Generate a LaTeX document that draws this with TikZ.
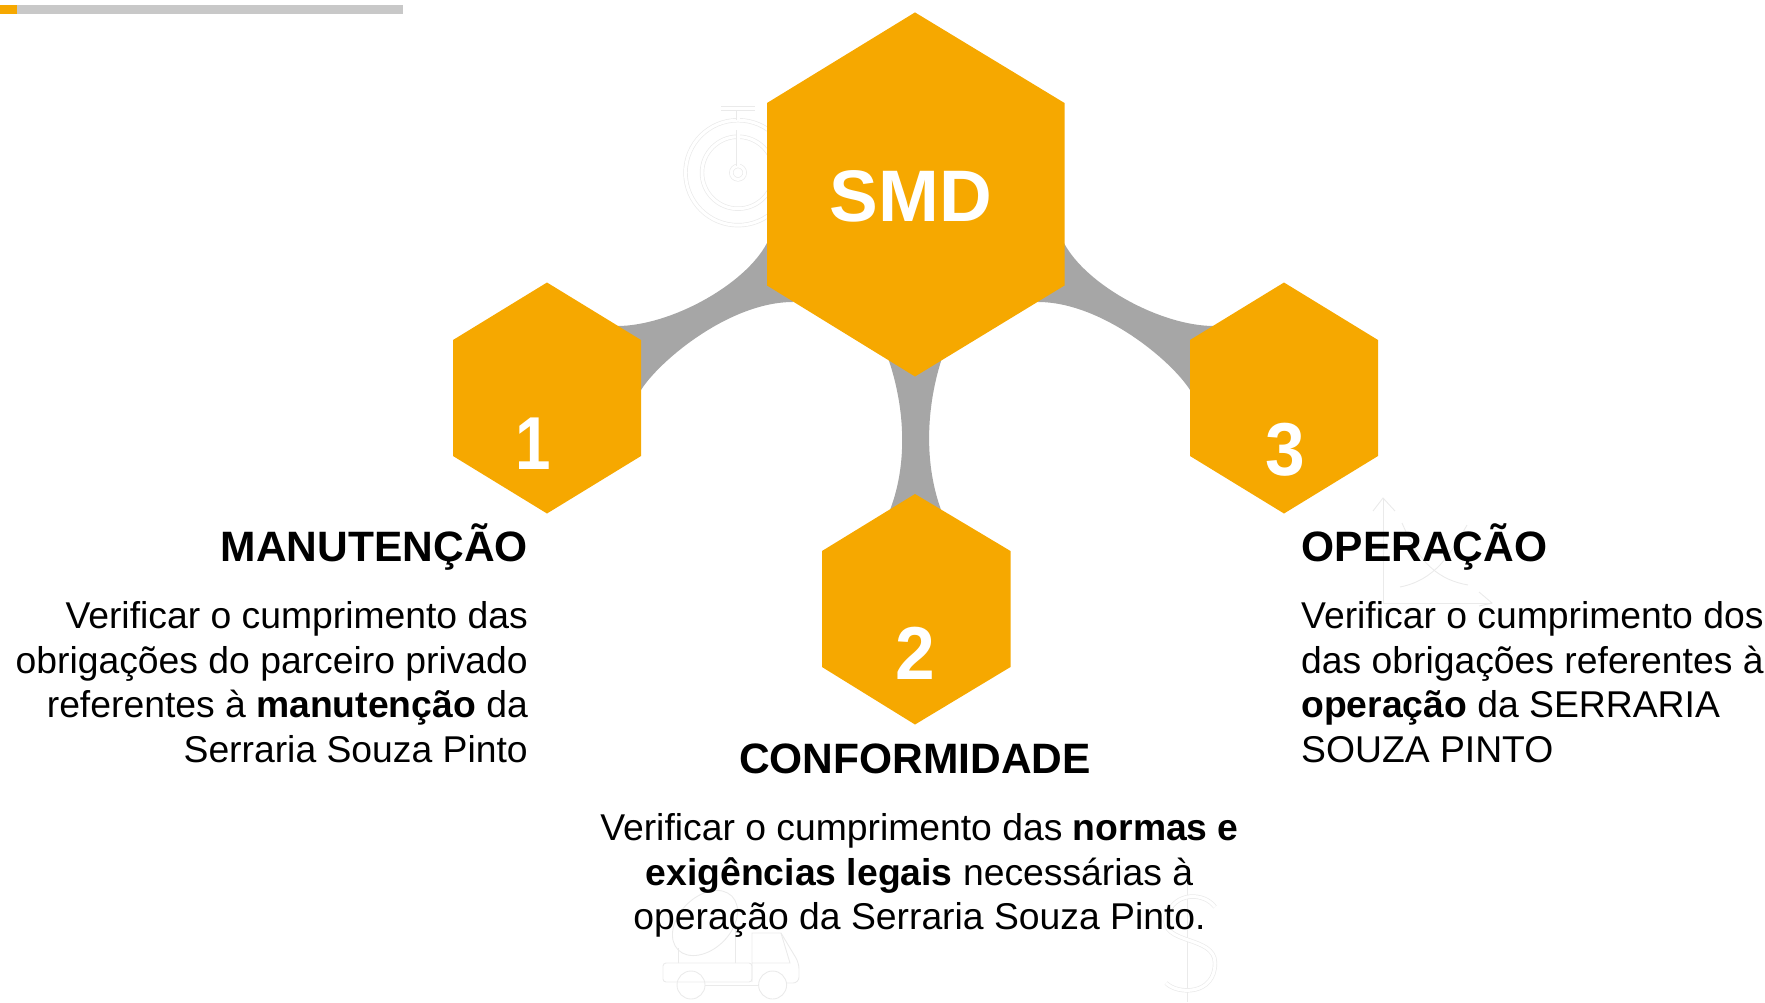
\documentclass[tikz,border=0pt]{standalone}
\usepackage{fontspec}
\setmainfont{Liberation Sans}
\definecolor{hexc}{HTML}{F6A800}
\definecolor{linkc}{HTML}{A6A6A6}
\definecolor{barc}{HTML}{C8C8C8}
\definecolor{iconc}{HTML}{EAEAEA}
\tikzset{
  hexfill/.style={fill=hexc},
  linkfill/.style={fill=linkc},
  icon/.style={draw=iconc,line width=.7pt,double=white,double distance=3pt,fill=none},
  iconthin/.style={draw=iconc,line width=.9pt},
  title/.style={font=\fontsize{42.5}{48}\selectfont\bfseries,inner sep=0pt},
  body/.style={font=\fontsize{37.3}{44.8}\selectfont,inner sep=0pt},
  bignum/.style={font=\fontsize{75}{80}\selectfont\bfseries,text=white,inner sep=0pt},
}
\begin{document}
\begin{tikzpicture}[x=1pt,y=-1pt]
\useasboundingbox (0,0) rectangle (1765,1002);
% top progress bar
\fill[barc] (0,5) rectangle (403,13.7);
\fill[hexc] (0,5) rectangle (17,13.7);
% faint stopwatch
\draw[icon] (738,172.7) circle (52.5);
\draw[icon] (738,172.7) circle (36);
\draw[icon] (738,172.7) circle (6.7);
\draw[icon] (738,166) -- (738,130);
\draw[icon] (738,120) -- (738,110);
\draw[icon] (721,108.3) -- (755,108.3);
% faint truck
\draw[iconthin,rounded corners=3pt] (663,963) rectangle (752,982);
\draw[iconthin] (752,982) -- (752,933) -- (781,933) -- (790,963) -- (752,963);
\draw[iconthin,rounded corners=6pt] (781,933) -- (799,963) -- (799,983) -- (787,983);
\draw[iconthin] (691,985) circle (14);
\draw[iconthin] (772.6,985) circle (14);
\draw[iconthin] (705,985) -- (758.6,985);
\draw[iconthin] (705,923) ellipse [x radius=38,y radius=26,rotate=45];
\draw[iconthin] (678,963) -- (678,948);
\draw[iconthin] (735,963) -- (735,925);
% faint dollar sign
\draw[icon] (1189,883) -- (1189,1002);
\draw[icon] (1215,907) .. controls (1205,893) and (1175,890) .. (1166,917)
  .. controls (1160,945) and (1215,935) .. (1215,963)
  .. controls (1215,995) and (1178,995) .. (1166,983);
% faint chart
\draw[iconthin] (1383,603) -- (1383,498);
\draw[iconthin] (1373,511) -- (1383,498) -- (1395,511);
\draw[iconthin] (1383,603) -- (1492,603);
\draw[iconthin] (1479,592) -- (1492,603) -- (1479,606);
\draw[iconthin] (1400,587) .. controls (1435,580) and (1450,555) .. (1467,525);
\draw[iconthin] (1402,523) .. controls (1420,565) and (1440,580) .. (1468,585);
% gray connectors
\fill[linkfill] (767,243) .. controls (745,285) and (670,326) .. (617,326)
  -- (641,345) -- (641,390) .. controls (660,360) and (730,302) .. (793,302) -- cycle;
\fill[linkfill] (1064,243) .. controls (1086,285) and (1161,326) .. (1214,326)
  -- (1190,345) -- (1190,390) .. controls (1171,360) and (1101,302) .. (1038,302) -- cycle;
\fill[linkfill] (887,355) .. controls (905,405) and (909,465) .. (888,515)
  -- (943,515) .. controls (923,465) and (926,405) .. (943,355) -- cycle;
% hexagons
\fill[hexfill] (915,12.4) -- (1064.5,103) -- (1064.5,285.5) -- (915,376.5) -- (767,285.5) -- (767,103) -- cycle;
\fill[hexfill] (547,282.5) -- (641,340) -- (641,456) -- (547,513.5) -- (453,456) -- (453,340) -- cycle;
\fill[hexfill] (915,494) -- (1010.5,551) -- (1010.5,667) -- (915,724.5) -- (822,667) -- (822,551) -- cycle;
\fill[hexfill] (1284,282.5) -- (1378,340) -- (1378,456) -- (1284,513.5) -- (1190,456) -- (1190,340) -- cycle;
% hexagon labels
\node[bignum,font=\fontsize{73}{80}\selectfont\bfseries] (smd) at (911,196) {SMD};
\node[bignum] (n1) at (533,444) {\scalebox{.85}[1]{1}};
\node[bignum] (n2) at (915,653) {\scalebox{.95}[1]{2}};
\node[bignum] (n3) at (1285,450) {\scalebox{.95}[1]{3}};
% texts
\node[title,anchor=base east] (t1) at (528,561) {MANUTENÇÃO};
\node[body,anchor=north east,align=right] (b1) at (528,601) {Verificar o cumprimento das\\obrigações do parceiro privado\\referentes à \textbf{manutenção} da\\Serraria Souza Pinto};
\node[title,anchor=base] (t2) at (915,773) {CONFORMIDADE};
\node[body,anchor=north,align=center] (b2) at (919.5,813) {Verificar o cumprimento das \textbf{normas e}\\\textbf{exigências legais} necessárias à\\operação da Serraria Souza Pinto.};
\node[title,anchor=base west] (t3) at (1301.5,561) {OPERAÇÃO};
\node[body,anchor=north west,align=left] (b3) at (1301,601) {Verificar o cumprimento dos\\das obrigações referentes à\\\textbf{operação} da SERRARIA\\SOUZA PINTO};
\end{tikzpicture}
\end{document}
